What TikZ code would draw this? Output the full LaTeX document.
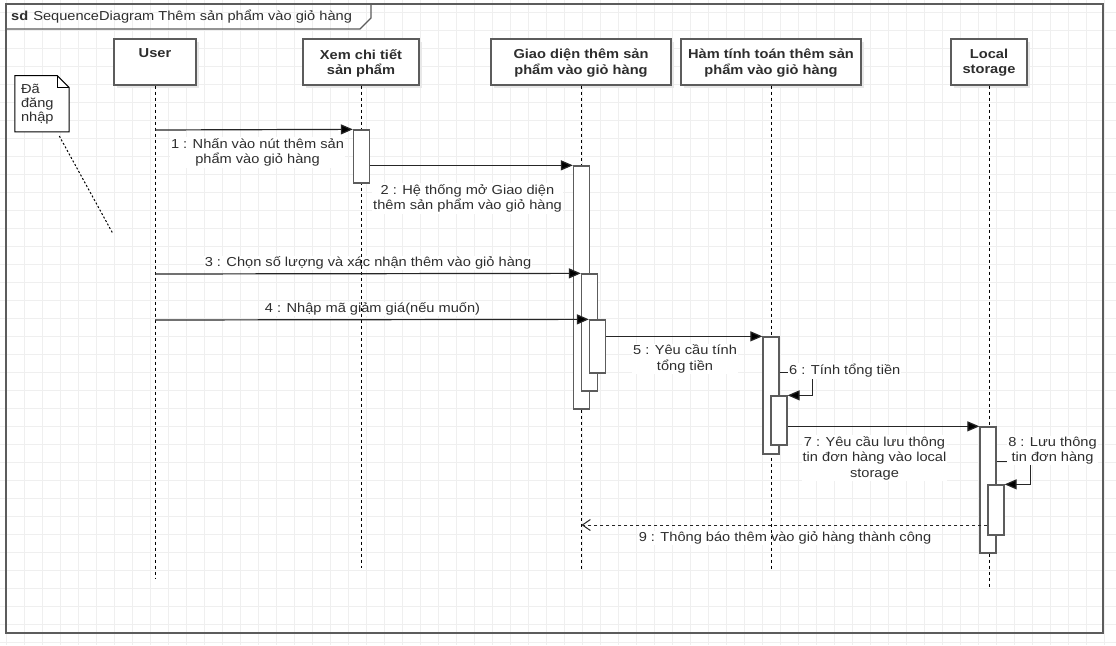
\documentclass[tikz,border=0pt]{standalone}
\usepackage{fontspec}
\setmainfont{Liberation Sans}[FakeStretch=1.125]
\usetikzlibrary{arrows.meta,calc,shadows}

\definecolor{ink}{HTML}{2E2E2E}
\definecolor{stroke}{HTML}{5C5C5C}
\definecolor{wire}{HTML}{262626}
\definecolor{gridc}{HTML}{EFEFEF}
\definecolor{shade}{HTML}{E8E8E8}

\pgfdeclarelayer{grid}
\pgfdeclarelayer{labels}
\pgfsetlayers{grid,labels,main}

\tikzset{
  gridline/.style={draw=gridc, line width=1pt},
  framestroke/.style={draw=stroke, line width=1.3pt},
  participant/.style={draw=stroke, line width=1.3pt, fill=white, inner sep=0pt,
    minimum height=46pt,
    drop shadow={shadow xshift=3pt, shadow yshift=-3pt, fill=shade, opacity=1}},
  ptext/.style={font=\fontsize{13}{15.5}\selectfont\bfseries, align=center, inner sep=0pt, anchor=north},
  lifeline/.style={draw=black, line width=1pt, dash pattern=on 3pt off 3pt},
  activation/.style={draw=stroke, line width=1.3pt, fill=white, inner sep=0pt, minimum width=16pt},
  msg/.style={draw=wire, line width=1.2pt, -{Triangle[length=12pt,width=10pt,fill=black]}},
  ret/.style={draw=wire, line width=1pt, dash pattern=on 3pt off 3pt,
    -{Straight Barb[length=8pt,width=11pt,line width=1pt]}},
  msglabel/.style={fill=white, inner sep=1pt, align=center, text=ink},
  notelink/.style={draw=black, line width=1pt, dash pattern=on 2pt off 2pt},
}

\begin{document}
\begin{tikzpicture}[x=1pt, y=-1pt, font=\fontsize{13}{15.5}\selectfont, text=ink]
\useasboundingbox (0,0) rectangle (1116,645);

% canvas and background grid
\begin{pgfonlayer}{grid}
  \fill[white] (0,0) rectangle (1116,645);
  \foreach \i in {0,...,61} \draw[gridline] (6+18*\i,0) -- (6+18*\i,645);
  \foreach \j in {0,...,35} \draw[gridline] (0,12.7+18*\j) -- (1116,12.7+18*\j);
\end{pgfonlayer}

% sd frame with its name tab
\draw[framestroke] (6,4) rectangle (1103,633);
\draw[framestroke] (6,29) -- (360,29) -- (371,18) -- (371,4);
\node[anchor=west, inner sep=0pt] (title) at (11,16.5)
  {\textbf{sd}\hspace{5pt}SequenceDiagram Thêm sản phẩm vào giỏ hàng};

% participants
\node[participant, minimum width=82pt]  (pUser)  at (155,62)   {};
\node[participant, minimum width=116pt] (pXem)   at (361,62)   {};
\node[participant, minimum width=180pt] (pGiao)  at (581,62)   {};
\node[participant, minimum width=180pt] (pHam)   at (771,62)   {};
\node[participant, minimum width=76pt]  (pLocal) at (989,62)   {};

\node[ptext] (tUser)  at ($(pUser.north)+(0,10.5)$)  {User};
\node[ptext] (tXem)   at ($(pXem.north)+(0,10.5)$)   {Xem chi tiết\\sản phẩm};
\node[ptext] (tGiao)  at ($(pGiao.north)+(0,10.5)$)  {Giao diện thêm sản\\phẩm vào giỏ hàng};
\node[ptext] (tHam)   at ($(pHam.north)+(0,10.5)$)   {Hàm tính toán thêm sản\\phẩm vào giỏ hàng};
\node[ptext] (tLocal) at ($(pLocal.north)+(0,10.5)$) {Local\\storage};

% lifeline ends
\coordinate (eUser)  at (155,579);
\coordinate (eXem)   at (361,568);
\coordinate (eGiao)  at (581.5,569);
\coordinate (eHam)   at (771,569);
\coordinate (eLocal) at (989,588);

\draw[lifeline] (pUser)  -- (eUser);
\draw[lifeline] (pXem)   -- (eXem);
\draw[lifeline] (pGiao.south -| eGiao) -- (eGiao);
\draw[lifeline] (pHam)   -- (eHam);
\draw[lifeline] (pLocal) -- (eLocal);

% activation bars
\node[activation, minimum height=53pt]  (a1) at (361.5,156.5) {};
\node[activation, minimum height=243pt] (a2) at (581.5,287.5) {};
\node[activation, minimum height=117pt] (a3) at (589.5,332.5) {};
\node[activation, minimum height=53pt]  (a4) at (597.5,346.5) {};
\node[activation, minimum height=117pt] (a5) at (771,395.5)   {};
\node[activation, minimum height=49pt]  (a6) at (779,420.5)   {};
\node[activation, minimum height=126pt] (a7) at (988,490)     {};
\node[activation, minimum height=50pt]  (a8) at (996,510)     {};

% message start points on the User lifeline
\coordinate (m1) at (155,130);
\coordinate (m3) at (155,274);
\coordinate (m4) at (155,320);
\coordinate (r9) at (581.5,525);

% messages
\draw[msg] (m1) -- (a1.north west);
\draw[msg] (a1.east |- a2.north) -- (a2.north west);
\draw[msg] (m3) -- (a3.north west);
\draw[msg] (m4) -- (a4.north west);
\draw[msg] (a4.east |- a5.north) -- (a5.north west);
\draw[msg] ($(a5.north east)+(0,36)$) -| ($(a6.north east)+(25,0)$) -- (a6.north east);
\draw[msg] (a6.east |- a7.north) -- (a7.north west);
\draw[msg] ($(a7.north east)+(0,35)$) -| ($(a8.north east)+(26,0)$) -- (a8.north east);
\draw[ret] (a8.west |- r9) -- (r9);

% message labels (lifelines pass over them)
\begin{pgfonlayer}{labels}
  \node[msglabel] (l1) at (257.5,152.5) {1 : Nhấn vào nút thêm sản\\phẩm vào giỏ hàng};
  \node[msglabel] (l2) at (467.5,198.5) {2 : Hệ thống mở Giao diện\\thêm sản phẩm vào giỏ hàng};
  \node[msglabel] (l3) at (368,263) {3 : Chọn số lượng và xác nhận thêm vào giỏ hàng};
  \node[msglabel] (l4) at (372.5,309) {4 : Nhập mã giảm giá(nếu muốn)};
  \node[msglabel] (l5) at (685,359) {5 : Yêu cầu tính\\tổng tiền};
  \node[msglabel] (l7) at (874.5,458) {7 : Yêu cầu lưu thông\\tin đơn hàng vào local\\storage};
  \node[msglabel] (l9) at (785,538) {9 : Thông báo thêm vào giỏ hàng thành công};
\end{pgfonlayer}

% self-call labels sit over their own loops
\node[msglabel, anchor=west] (l6) at (788,371) {6 : Tính tổng tiền};
\node[msglabel] (l8) at (1052.5,450.5) {8 : Lưu thông\\tin đơn hàng};

% note
\node[inner sep=0pt, minimum width=54pt, minimum height=56pt] (note) at (42,103.7) {};
\draw[draw=black, line width=1pt, fill=white]
  (note.north west) -- ($(note.north east)+(-12,0)$) -- ($(note.north east)+(0,12)$)
  -- (note.south east) -- (note.south west) -- cycle;
\draw[draw=black, line width=1pt]
  ($(note.north east)+(-12,0)$) -- ($(note.north east)+(-12,12)$) -- ($(note.north east)+(0,12)$);
\node[anchor=north west, align=left, inner sep=0pt, font=\fontsize{13}{14.2}\selectfont] (notetext)
  at ($(note.north west)+(6,8.5)$) {Đã\\đăng\\nhập};
\coordinate (nl1) at (59.3,136);
\coordinate (nl2) at (112.7,233.3);
\draw[notelink] (nl1) -- (nl2);

\end{tikzpicture}
\end{document}
